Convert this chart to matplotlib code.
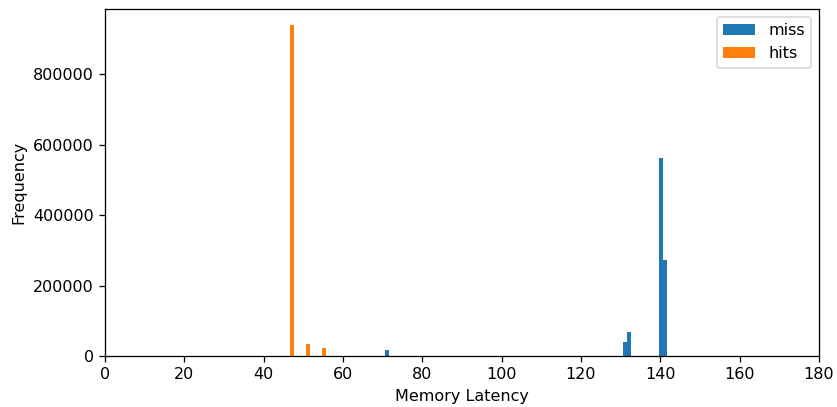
import numpy as np
import matplotlib
matplotlib.use("Agg")
import matplotlib.pyplot as plt

# latency value -> count
miss_latency = [71, 131, 132, 140, 141]
miss_count = [17000, 40000, 68000, 562000, 272000]

hits_latency = [47, 51, 55]
hits_count = [938000, 34000, 22700]

dpi = 115
fig, ax = plt.subplots(figsize=(837 / dpi, 407 / dpi), dpi=dpi)
fig.subplots_adjust(left=0.1254, right=0.9785, top=0.978, bottom=0.1253)

bins = np.arange(-0.4, 181, 1)
ax.hist(miss_latency, bins=bins, weights=miss_count, label="miss")
ax.hist(hits_latency, bins=bins, weights=hits_count, label="hits")

ax.set_xlim(0, 180)
ax.set_xlabel("Memory Latency")
ax.set_ylabel("Frequency")
ax.legend(loc="upper right")

fig.savefig("out.png", dpi=dpi)
